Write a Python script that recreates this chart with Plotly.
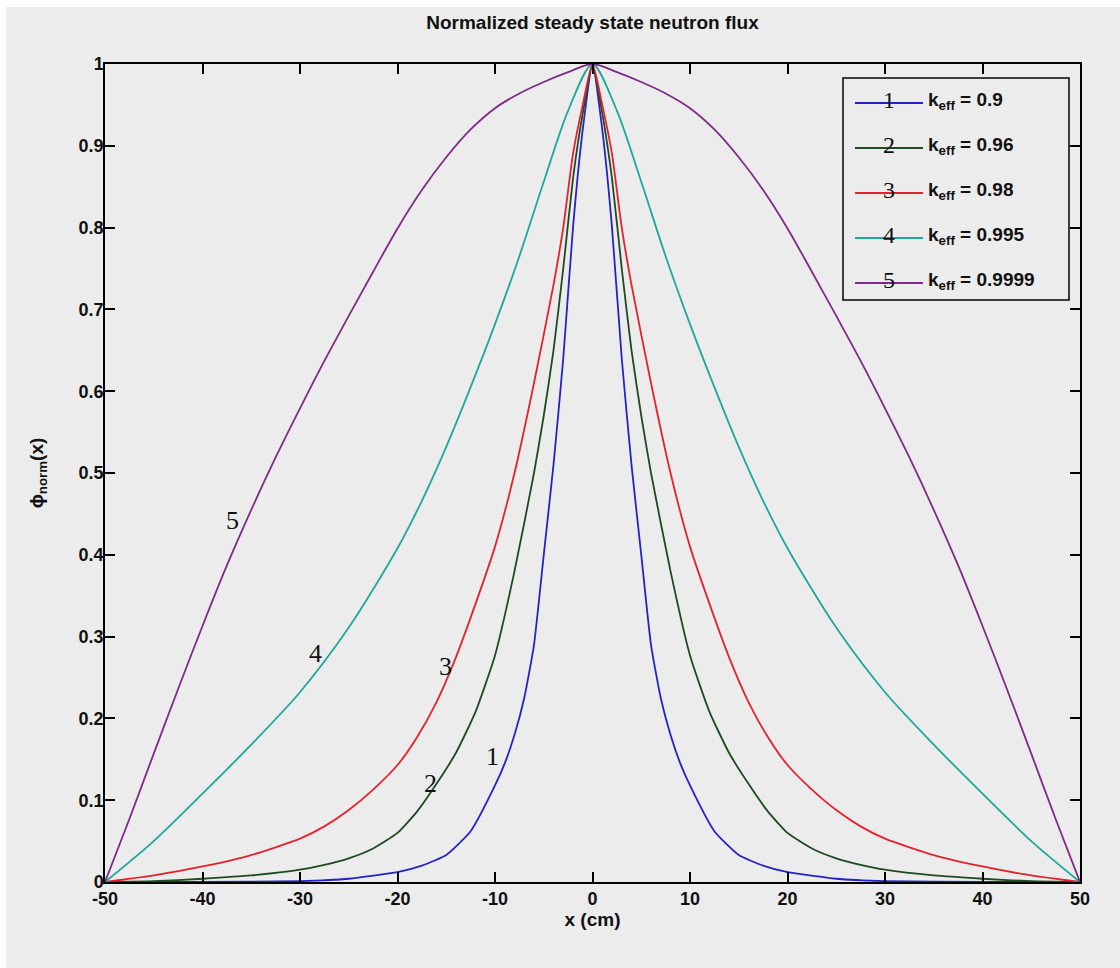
import plotly.graph_objects as go

# ---------------- data ----------------
x1 = [-50, -40, -30, -25, -20, -17.5, -15, -12.5, -10, -9, -8, -7, -6, -5, -4, -3, -2, -1, 0,
      1, 2, 3, 4, 5, 6, 7, 8, 9, 10, 12.5, 15, 17.5, 20, 25, 30, 40, 50]
y1 = [0, 0, 0.001, 0.004, 0.012, 0.02, 0.033, 0.062, 0.118, 0.145, 0.18, 0.225, 0.29, 0.4, 0.51, 0.64, 0.8, 0.92, 1,
      0.92, 0.8, 0.64, 0.51, 0.4, 0.29, 0.225, 0.18, 0.145, 0.118, 0.062, 0.033, 0.02, 0.012, 0.004, 0.001, 0, 0]

x2 = [-50, -45, -40, -35, -30, -27.5, -25, -22.5, -20, -18, -16, -14, -12, -10, -8, -6, -5, -4, -3, -2, -1, 0,
      1, 2, 3, 4, 5, 6, 8, 10, 12, 14, 16, 18, 20, 22.5, 25, 27.5, 30, 35, 40, 45, 50]
y2 = [0, 0.001, 0.004, 0.008, 0.015, 0.021, 0.029, 0.041, 0.06, 0.086, 0.12, 0.158, 0.208, 0.277, 0.38, 0.5, 0.57, 0.65, 0.75, 0.86, 0.94, 1,
      0.94, 0.86, 0.75, 0.65, 0.57, 0.5, 0.38, 0.277, 0.208, 0.158, 0.12, 0.086, 0.06, 0.041, 0.029, 0.021, 0.015, 0.008, 0.004, 0.001, 0]

x3 = [-50, -45, -40, -35, -30, -27.5, -25, -22.5, -20, -18, -16, -14, -12, -10, -8, -6, -4, -3, -2, -1, 0,
      1, 2, 3, 4, 6, 8, 10, 12, 14, 16, 18, 20, 22.5, 25, 27.5, 30, 35, 40, 45, 50]
y3 = [0, 0.008, 0.019, 0.033, 0.053, 0.068, 0.088, 0.113, 0.143, 0.177, 0.22, 0.275, 0.34, 0.41, 0.5, 0.61, 0.73, 0.8, 0.89, 0.95, 1,
      0.95, 0.89, 0.8, 0.73, 0.61, 0.5, 0.41, 0.34, 0.275, 0.22, 0.177, 0.143, 0.113, 0.088, 0.068, 0.053, 0.033, 0.019, 0.008, 0]

x4 = [-50, -45, -40, -35, -30, -25, -20, -17.5, -15, -12.5, -10, -7.5, -5, -2.5, 0,
      2.5, 5, 7.5, 10, 12.5, 15, 17.5, 20, 25, 30, 35, 40, 45, 50]
y4 = [0, 0.05, 0.108, 0.168, 0.232, 0.311, 0.408, 0.466, 0.532, 0.605, 0.682, 0.765, 0.856, 0.943, 1,
      0.943, 0.856, 0.765, 0.682, 0.605, 0.532, 0.466, 0.408, 0.311, 0.232, 0.168, 0.108, 0.05, 0]

x5 = [-50, -47.5, -45, -42.5, -40, -37.5, -35, -32.5, -30, -27.5, -25, -22.5, -20, -17.5, -15, -12.5, -10, -7.5, -5, -2.5, 0,
      2.5, 5, 7.5, 10, 12.5, 15, 17.5, 20, 22.5, 25, 27.5, 30, 32.5, 35, 37.5, 40, 42.5, 45, 47.5, 50]
y5 = [0, 0.077, 0.157, 0.236, 0.313, 0.387, 0.455, 0.519, 0.579, 0.637, 0.692, 0.746, 0.799, 0.846, 0.886, 0.92, 0.946, 0.964, 0.978, 0.99, 1,
      0.99, 0.978, 0.964, 0.946, 0.92, 0.886, 0.846, 0.799, 0.746, 0.692, 0.637, 0.579, 0.519, 0.455, 0.387, 0.313, 0.236, 0.157, 0.077, 0]

series_x = [x1, x2, x3, x4, x5]
series_y = [y1, y2, y3, y4, y5]
series_ids = ["1", "2", "3", "4", "5"]
keff_labels = ["0.9", "0.96", "0.98", "0.995", "0.9999"]
colors = ["#2323c8", "#1f4a22", "#e4222c", "#1ea898", "#7e2a88"]
smooth = [0.5, 0.5, 0.6, 0.8, 0.9]

# curve label positions (data coords)
label_x = [-10.3, -16.6, -15.1, -28.4, -36.9]
label_y = [0.153, 0.12, 0.263, 0.279, 0.442]

x_ticks = [-50, -40, -30, -20, -10, 0, 10, 20, 30, 40, 50]
y_ticks = [0, 0.1, 0.2, 0.3, 0.4, 0.5, 0.6, 0.7, 0.8, 0.9, 1]
y_ticktext = ["0", "0.1", "0.2", "0.3", "0.4", "0.5", "0.6", "0.7", "0.8", "0.9", "1"]

# ---------------- layout geometry (screen pixels; page has an 8px body margin) ----------------
OFF = 8
W, H = 1120 - 2 * OFF, 968 - 2 * OFF
SL, SR, ST, SB = 105, 1080, 64, 882          # plot frame on screen
L, R, T, B = SL - OFF, SR - OFF, ST - OFF, SB - OFF
BG = "#ececec"
SANS = "Liberation Sans, Arial, Helvetica, sans-serif"
SERIF = "Liberation Serif, Times New Roman, DejaVu Serif, serif"
INK = "#111111"


def px(xs):
    return (xs - SL) / (SR - SL)


def py(ys):
    return (SB - ys) / (SB - ST)


fig = go.Figure()
for xs, ys, c, k, sm in zip(series_x, series_y, colors, keff_labels, smooth):
    fig.add_trace(go.Scatter(x=xs, y=ys, mode="lines",
                             line=dict(color=c, width=1.8, shape="spline", smoothing=sm),
                             name=f"k_eff = {k}", showlegend=False))

annotations = []
for lx, ly, sid in zip(label_x, label_y, series_ids):
    annotations.append(dict(x=lx, y=ly, xref="x", yref="y", text=sid, showarrow=False,
                            font=dict(family=SERIF, size=26, color=INK)))

shapes = []
# custom legend (MATLAB style: numbered line + label)
LEG_L, LEG_R, LEG_T, LEG_B = 843, 1069, 78, 300
shapes.append(dict(type="rect", xref="paper", yref="paper", x0=px(LEG_L), x1=px(LEG_R),
                   y0=py(LEG_B), y1=py(LEG_T), fillcolor=BG, line=dict(color="black", width=1.5)))
for i, (c, sid, k) in enumerate(zip(colors, series_ids, keff_labels)):
    yy = 103 + i * 45
    shapes.append(dict(type="line", xref="paper", yref="paper", x0=px(855), x1=px(923),
                       y0=py(yy), y1=py(yy), line=dict(color=c, width=1.8)))
    annotations.append(dict(x=px(889), y=py(yy - 3), xref="paper", yref="paper", text=sid,
                            showarrow=False, font=dict(family=SERIF, size=24, color=INK),
                            xanchor="center", yanchor="middle"))
    annotations.append(dict(x=px(926), y=py(yy - 2), xref="paper", yref="paper",
                            text=f"k<sub>eff</sub> = {k}", showarrow=False,
                            font=dict(family=SANS, size=19, color=INK, weight="bold"),
                            xanchor="left", yanchor="middle"))

axis_common = dict(showline=True, linecolor="black", linewidth=1.5, mirror="ticks",
                   ticks="inside", ticklen=10, tickwidth=1.5, tickcolor="black",
                   showgrid=False, zeroline=False,
                   tickfont=dict(family=SANS, size=18, color=INK, weight="bold"))

fig.update_layout(
    width=W, height=H,
    margin=dict(l=L, r=W - R, t=T, b=H - B, autoexpand=False),
    paper_bgcolor=BG, plot_bgcolor=BG,
    title=dict(text="Normalized steady state neutron flux", x=0.5, xref="paper",
               y=1 - (22 - OFF) / H, yref="container", xanchor="center", yanchor="middle",
               font=dict(family=SANS, size=19, color=INK, weight="bold")),
    xaxis=dict(range=[-50, 50], tickvals=x_ticks, ticktext=[str(v) for v in x_ticks],
               title=dict(text="x (cm)", standoff=0,
                          font=dict(family=SANS, size=19, color=INK, weight="bold")),
               **axis_common),
    yaxis=dict(range=[0, 1], tickvals=y_ticks, ticktext=y_ticktext, ticklabelstandoff=-4,
               title=dict(text="\u03d5<sub>norm</sub>(x)", standoff=30,
                          font=dict(family=SANS, size=19, color=INK, weight="bold")),
               **axis_common),
    annotations=annotations,
    shapes=shapes,
    showlegend=False,
)

page_bg = ("document.documentElement.style.background = "
           "'linear-gradient(#fff,#fff) 0 0/100% 7px no-repeat, "
           "linear-gradient(#fff,#fff) 0 0/6px 100% no-repeat, " + BG + "';")
fig.write_html("out.html", post_script=page_bg)
